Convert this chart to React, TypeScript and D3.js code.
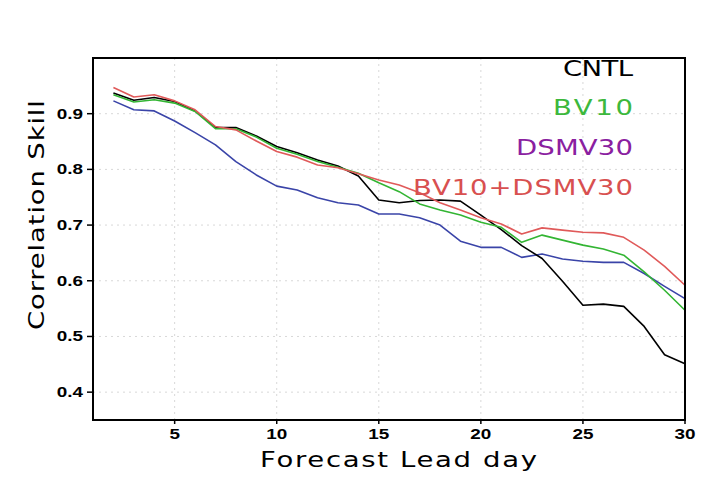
import React from "react";
import * as d3 from "d3";

const days = [2,3,4,5,6,7,8,9,10,11,12,13,14,15,16,17,18,19,20,21,22,23,24,25,26,27,28,29,30];
const cntl = [0.937,0.924,0.929,0.922,0.905,0.875,0.875,0.860,0.841,0.830,0.817,0.806,0.788,0.745,0.740,0.744,0.745,0.743,0.718,0.692,0.663,0.640,0.599,0.556,0.558,0.554,0.518,0.467,0.451];
const bv10 = [0.934,0.921,0.925,0.919,0.904,0.873,0.873,0.858,0.838,0.827,0.814,0.804,0.793,0.776,0.760,0.738,0.727,0.718,0.705,0.696,0.669,0.682,0.673,0.664,0.657,0.646,0.616,0.583,0.547];
const dsmv30 = [0.923,0.907,0.905,0.887,0.866,0.844,0.814,0.790,0.770,0.763,0.749,0.740,0.736,0.720,0.720,0.713,0.700,0.671,0.660,0.660,0.642,0.648,0.639,0.635,0.633,0.633,0.613,0.590,0.568];
const combo = [0.947,0.930,0.934,0.923,0.907,0.877,0.871,0.851,0.832,0.822,0.808,0.803,0.792,0.781,0.772,0.758,0.740,0.727,0.713,0.702,0.684,0.695,0.691,0.687,0.686,0.678,0.655,0.626,0.592];

const seriesNames = ["CNTL", "BV10", "DSMV30", "BV10+DSMV30"];
const lineColors = ["#000000", "#33b533", "#3a44a8", "#e05a5a"];
const legendColors = ["#000000", "#3cb83c", "#8a20a0", "#d85050"];
const xTicks = [5, 10, 15, 20, 25, 30];
const yTicks = [0.4, 0.5, 0.6, 0.7, 0.8, 0.9];

const FONT = "DejaVu Sans, sans-serif";
const TICKFONT = "Liberation Sans, Arial, sans-serif";

function WideText(props: { x: number; y: number; s: number; len?: number; anchor?: string; rotate?: number; fill: string; size: number; weight?: string; family: string; children: any }) {
  const { x, y, s, len, anchor, rotate, fill, size, weight, family, children } = props;
  const tr = `translate(${x},${y})` + (rotate ? ` rotate(${rotate})` : "") + ` scale(${s},1)`;
  return (
    <text
      transform={tr}
      x={0}
      y={0}
      textAnchor={anchor || "start"}
      fontFamily={family}
      fontSize={size}
      fontWeight={weight || "normal"}
      fill={fill}
      {...(len ? { textLength: len / s, lengthAdjust: "spacing" } : {})}
    >
      {children}
    </text>
  );
}

export default function App() {
  const W = 718, H = 488;
  const x = d3.scaleLinear().domain([1, 30]).range([93, 685]);
  const y = d3.scaleLinear().domain([0.35, 1.0]).range([420, 58]);
  const allSeries = [cntl, bv10, dsmv30, combo];
  const drawOrder = [2, 0, 1, 3];
  const line = d3.line<number>().x((_, i) => x(days[i])).y((v) => y(v));
  const legendY = [76, 115, 155, 195];
  const legendLen = [70, 80, 117, 220];

  return (
    <svg width={W} height={H} style={{ position: "absolute", left: 0, top: 0, background: "#fff" }}>
      <rect x={0} y={0} width={W} height={H} fill="#fff" />
      {xTicks.filter((t) => t < 30).map((t) => (
        <line key={"gx" + t} x1={x(t)} x2={x(t)} y1={58} y2={420} stroke="#d8d8d8" strokeWidth={1} strokeDasharray="2,4" />
      ))}
      {yTicks.map((t) => (
        <line key={"gy" + t} x1={93} x2={685} y1={y(t)} y2={y(t)} stroke="#d8d8d8" strokeWidth={1} strokeDasharray="2,4" />
      ))}
      {drawOrder.map((k) => (
        <path key={"l" + k} d={line(allSeries[k]) || ""} fill="none" stroke={lineColors[k]} strokeWidth={1.6} strokeLinejoin="round" />
      ))}
      <rect x={93} y={58} width={592} height={362} fill="none" stroke="#000" strokeWidth={2} />
      {yTicks.map((t) => (
        <g key={"ty" + t}>
          <line x1={87} x2={93} y1={y(t)} y2={y(t)} stroke="#000" strokeWidth={1.5} />
          <WideText x={83} y={y(t) + 5} s={1.35} anchor="end" family={TICKFONT} weight="bold" size={14} fill="#000">
            {t.toFixed(1)}
          </WideText>
        </g>
      ))}
      {xTicks.map((t) => (
        <g key={"tx" + t}>
          <line x1={x(t)} x2={x(t)} y1={420} y2={424} stroke="#000" strokeWidth={1.5} />
          <WideText x={x(t)} y={439} s={1.35} anchor="middle" family={TICKFONT} weight="bold" size={14} fill="#000">
            {t}
          </WideText>
        </g>
      ))}
      <WideText x={260} y={467} s={1.25} len={277} family={FONT} size={22} fill="#000">
        Forecast Lead day
      </WideText>
      <WideText x={44} y={330} rotate={-90} s={1.25} len={230} family={FONT} size={22} fill="#000">
        Correlation Skill
      </WideText>
      {seriesNames.map((n, i) => (
        <WideText key={"lg" + i} x={633} y={legendY[i]} s={1.25} len={legendLen[i]} anchor="end" family={FONT} size={22} fill={legendColors[i]}>
          {n}
        </WideText>
      ))}
    </svg>
  );
}
